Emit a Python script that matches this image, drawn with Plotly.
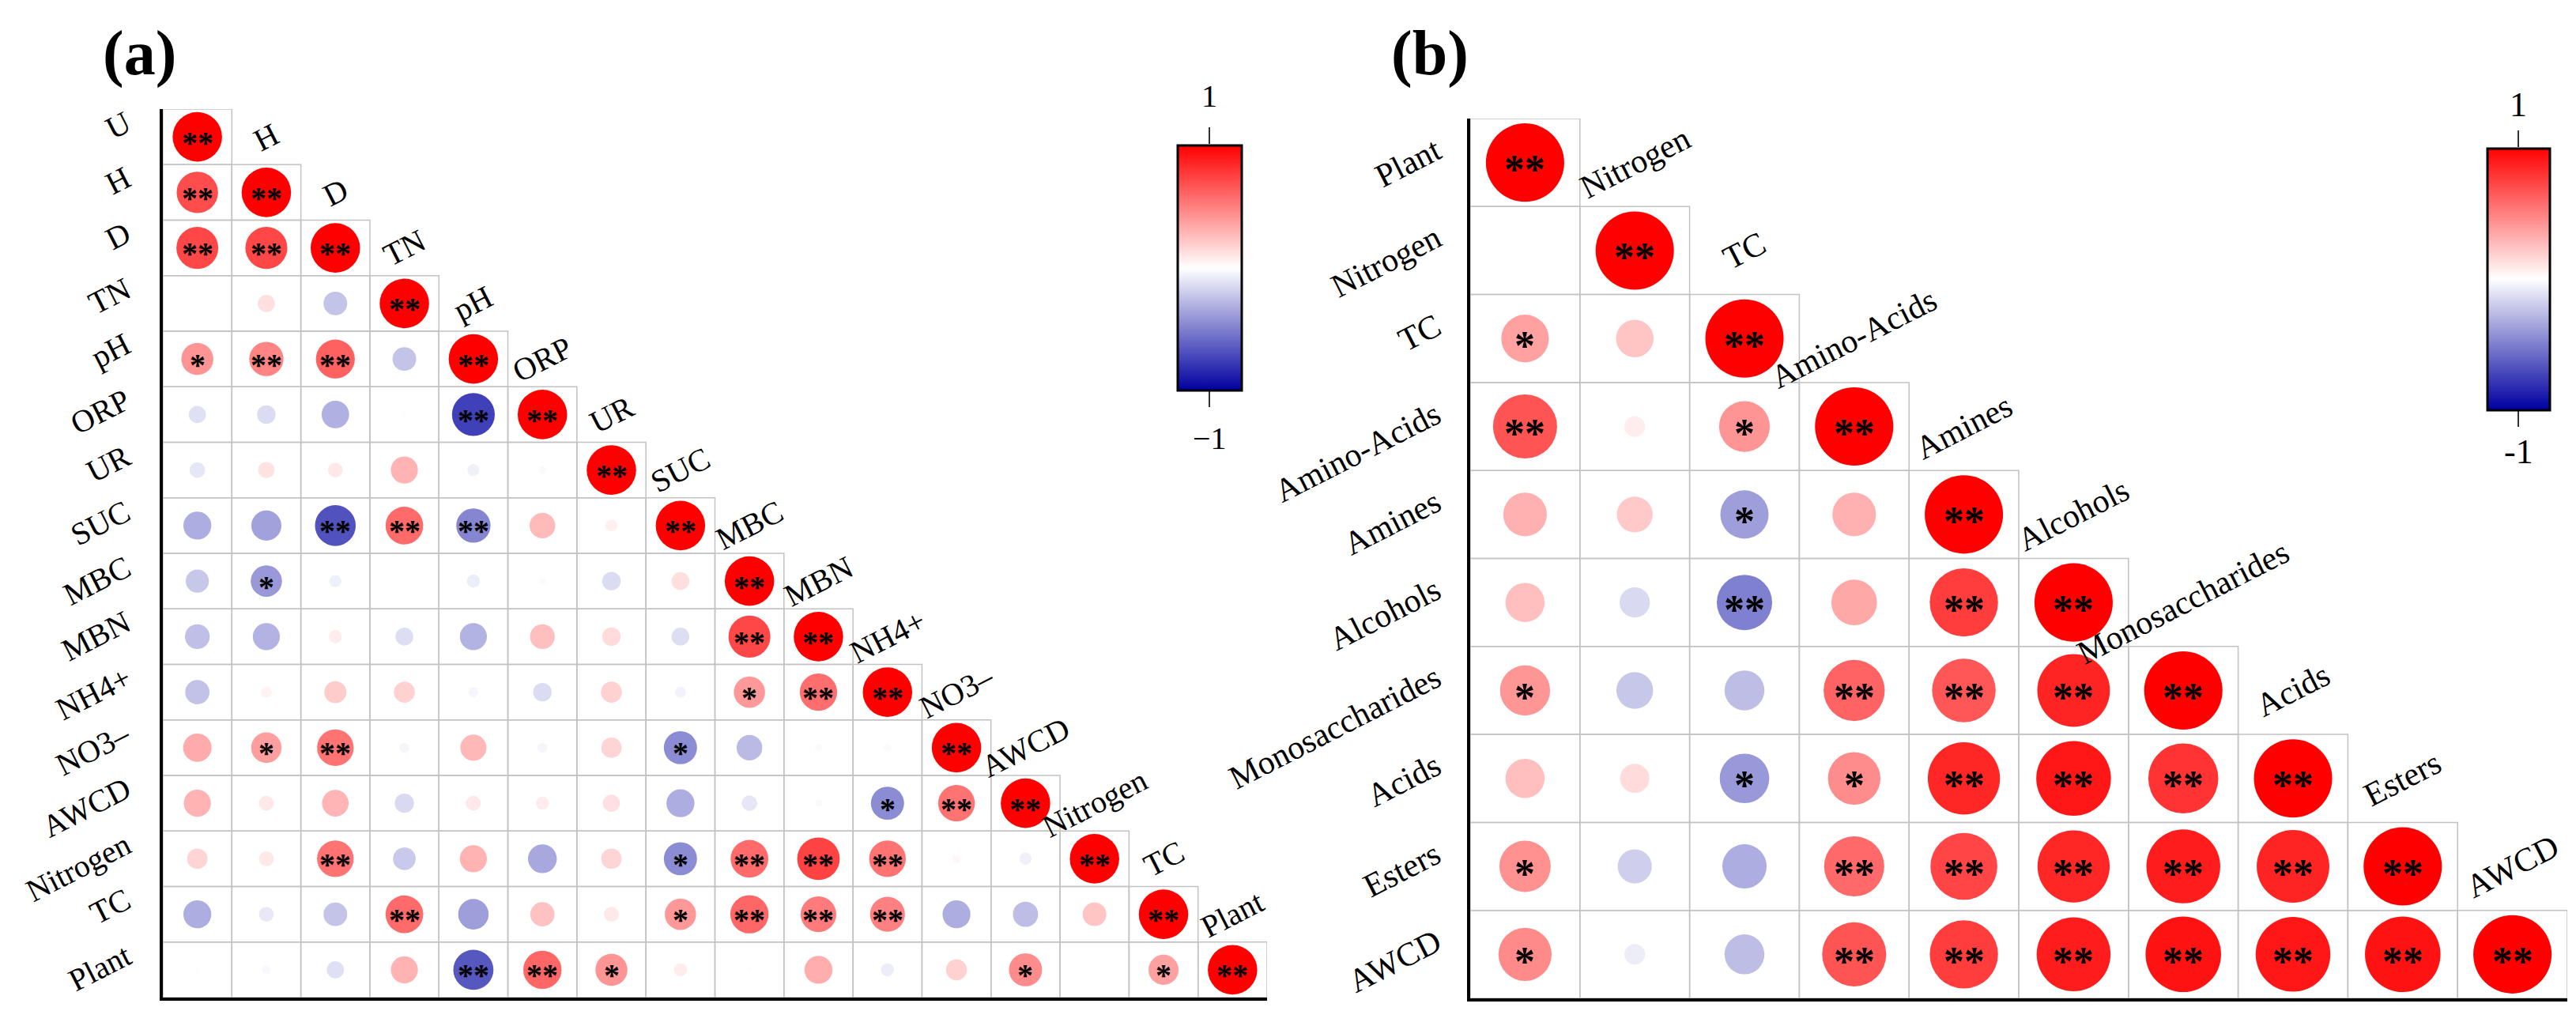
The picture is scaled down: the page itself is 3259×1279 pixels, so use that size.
import plotly.graph_objects as go

W, H = 3259, 1279

# ---------------- data: panel (a) ----------------
vars_a = ["U", "H", "D", "TN", "pH", "ORP", "UR", "SUC", "MBC", "MBN",
          "NH4+", "NO3–", "AWCD", "Nitrogen", "TC", "Plant"]
r_a = [
    [1.00],
    [0.70, 1.00],
    [0.72, 0.72, 1.00],
    [0.00, 0.12, -0.23, 1.00],
    [0.42, 0.48, 0.62, -0.23, 1.00],
    [-0.12, -0.14, -0.31, 0.01, -0.75, 1.00],
    [-0.10, 0.11, 0.09, 0.30, -0.06, -0.02, 1.00],
    [-0.32, -0.37, -0.68, 0.58, -0.48, 0.27, 0.06, 1.00],
    [-0.22, -0.40, -0.06, 0.00, -0.07, 0.02, -0.14, 0.13, 1.00],
    [-0.25, -0.30, 0.07, -0.13, -0.30, 0.25, 0.14, -0.13, 0.72, 1.00],
    [-0.24, 0.05, 0.20, 0.18, -0.04, -0.14, 0.18, -0.05, 0.40, 0.57, 1.00],
    [0.33, 0.38, 0.55, -0.04, 0.28, -0.04, 0.17, -0.45, -0.27, -0.02, -0.02, 1.00],
    [0.30, 0.09, 0.29, -0.15, 0.09, 0.07, 0.12, -0.32, -0.10, -0.02, -0.45, 0.55, 1.00],
    [0.17, 0.09, 0.55, -0.21, 0.30, -0.34, 0.17, -0.45, 0.58, 0.74, 0.55, 0.03, -0.06, 1.00],
    [-0.32, -0.09, -0.23, 0.58, -0.38, 0.24, 0.09, 0.40, 0.60, 0.52, 0.50, -0.32, -0.26, 0.23, 1.00],
    [0.01, -0.03, -0.12, 0.30, -0.66, 0.60, 0.42, 0.07, 0.01, 0.32, -0.07, 0.18, 0.45, 0.00, 0.37, 1.00],
]
sig_a = [
    ["**"],
    ["**", "**"],
    ["**", "**", "**"],
    ["", "", "", "**"],
    ["*", "**", "**", "", "**"],
    ["", "", "", "", "**", "**"],
    ["", "", "", "", "", "", "**"],
    ["", "", "**", "**", "**", "", "", "**"],
    ["", "*", "", "", "", "", "", "", "**"],
    ["", "", "", "", "", "", "", "", "**", "**"],
    ["", "", "", "", "", "", "", "", "*", "**", "**"],
    ["", "*", "**", "", "", "", "", "*", "", "", "", "**"],
    ["", "", "", "", "", "", "", "", "", "", "*", "**", "**"],
    ["", "", "**", "", "", "", "", "*", "**", "**", "**", "", "", "**"],
    ["", "", "", "**", "", "", "", "*", "**", "**", "**", "", "", "", "**"],
    ["", "", "", "", "**", "**", "*", "", "", "", "", "", "*", "", "*", "**"],
]

# ---------------- data: panel (b) ----------------
vars_b = ["Plant", "Nitrogen", "TC", "Amino-Acids", "Amines", "Alcohols",
          "Monosaccharides", "Acids", "Esters", "AWCD"]
r_b = [
    [1.00],
    [0.00, 1.00],
    [0.37, 0.23, 1.00],
    [0.67, 0.07, 0.42, 1.00],
    [0.31, 0.21, -0.38, 0.31, 1.00],
    [0.25, -0.15, -0.50, 0.34, 0.76, 1.00],
    [0.41, -0.22, -0.26, 0.61, 0.66, 0.86, 1.00],
    [0.25, 0.14, -0.40, 0.45, 0.85, 0.91, 0.80, 1.00],
    [0.43, -0.19, -0.32, 0.59, 0.73, 0.85, 0.89, 0.86, 1.00],
    [0.46, -0.07, -0.26, 0.67, 0.76, 0.89, 0.93, 0.91, 0.93, 1.00],
]
sig_b = [
    ["**"],
    ["", "**"],
    ["*", "", "**"],
    ["**", "", "*", "**"],
    ["", "", "*", "", "**"],
    ["", "", "**", "", "**", "**"],
    ["*", "", "", "**", "**", "**", "**"],
    ["", "", "*", "*", "**", "**", "**", "**"],
    ["*", "", "", "**", "**", "**", "**", "**", "**"],
    ["*", "", "", "**", "**", "**", "**", "**", "**", "**"],
]

panel_tags = ["(a)", "(b)"]
cbar_labels_a = ["1", "−1"]
cbar_labels_b = ["1", "-1"]

# ---------------- style ----------------
FONT = "Liberation Serif"
cscale = [[0.0, "#0000A0"], [0.5, "#FFFFFF"], [1.0, "#FF0000"]]
GRID = "#C2C2C2"
ANG = 27

fig = go.Figure()
shapes = []
annotations = []


def px_x(p):
    return p / W


def px_y(p):
    return 1 - p / H


def add_panel(names, rvals, sigs, ax, xdom, ydom, cb, lab_size, star_size,
              lab_dx, lab_dy, star_dy):
    n = len(names)
    xr = "x" if ax == 1 else "x2"
    yr = "y" if ax == 1 else "y2"
    cell_h = (ydom[1] - ydom[0]) * H / n
    xs, ys, vs, szs = [], [], [], []
    for i, row in enumerate(rvals):
        for j, v in enumerate(row):
            xs.append(j)
            ys.append(i)
            vs.append(v)
            szs.append(0.89 * cell_h * abs(v) ** 0.5)
            shapes.append(dict(type="rect", xref=xr, yref=yr,
                               x0=j - 0.5, x1=j + 0.5, y0=i - 0.5, y1=i + 0.5,
                               line=dict(color=GRID, width=1.5), layer="below"))
            s = sigs[i][j]
            if s:
                annotations.append(dict(x=j, y=i, xref=xr, yref=yr,
                                        text="<b>" + s + "</b>",
                                        showarrow=False, yshift=star_dy,
                                        xanchor="center", yanchor="middle",
                                        font=dict(family=FONT, size=star_size, color="black")))
    fig.add_trace(go.Scatter(
        x=xs, y=ys, mode="markers", xaxis=xr, yaxis=yr, hoverinfo="skip",
        showlegend=False,
        marker=dict(size=szs, color=vs, colorscale=cscale, cmin=-1, cmax=1,
                    opacity=1, line=dict(width=0), showscale=True, colorbar=cb)))
    for k, name in enumerate(names):
        # diagonal (top) labels
        annotations.append(dict(x=k, y=k - 1, xref=xr, yref=yr, text=name,
                                showarrow=False, textangle=-ANG,
                                xanchor="center", yanchor="middle",
                                font=dict(family=FONT, size=lab_size, color="black")))
        # left labels
        annotations.append(dict(x=-0.5, y=k, xref=xr, yref=yr, text=name,
                                showarrow=False, textangle=-ANG,
                                xanchor="right", yanchor="top",
                                xshift=-lab_dx, yshift=lab_dy,
                                font=dict(family=FONT, size=lab_size, color="black")))
    axis_common = dict(showgrid=False, zeroline=False, showticklabels=False,
                       ticks="", showline=True, linecolor="black", linewidth=4)
    fig.update_layout(**{
        ("xaxis" if ax == 1 else "xaxis2"): dict(domain=xdom, range=[-0.5, n - 0.5],
                                                anchor=yr, **axis_common),
        ("yaxis" if ax == 1 else "yaxis2"): dict(domain=ydom, range=[n - 0.5, -0.5],
                                                anchor=xr, **axis_common),
    })


def colorbar(x0, x1, y0, y1):
    return dict(x=px_x(x0 + 1.5), xanchor="left", y=px_y((y0 + y1) / 2),
                yanchor="middle", len=(y1 - y0) - 3, lenmode="pixels",
                thickness=(x1 - x0) - 3, thicknessmode="pixels",
                outlinewidth=3, outlinecolor="black", showticklabels=False,
                ticks="", xpad=0, ypad=0)


cb_a = (1480, 1564, 174, 487)
cb_b = (3137, 3219, 178, 512)

add_panel(vars_a, r_a, sig_a, 1, [px_x(198), px_x(1595)], [px_y(1254), px_y(130)],
          colorbar(*cb_a), 40, 40, 31, 44, -7)
add_panel(vars_b, r_b, sig_b, 2, [px_x(1852), px_x(3240)], [px_y(1255), px_y(142)],
          colorbar(*cb_b), 42, 52, 27, 43, -9)

# colorbar end labels and tick marks
for (x0, x1, y0, y1), labs, fs, lab_y in (
        (cb_a, cbar_labels_a, 40, (113, 546)),
        (cb_b, cbar_labels_b, 44, (125, 563))):
    xc = (x0 + x1) / 2
    shapes.append(dict(type="line", xref="paper", yref="paper",
                       x0=px_x(xc), x1=px_x(xc), y0=px_y(y0), y1=px_y(y0 - 21),
                       line=dict(color="#333333", width=2)))
    shapes.append(dict(type="line", xref="paper", yref="paper",
                       x0=px_x(xc), x1=px_x(xc), y0=px_y(y1), y1=px_y(y1 + 20),
                       line=dict(color="#333333", width=2)))
    for lab, ly in zip(labs, lab_y):
        annotations.append(dict(x=px_x(xc), y=px_y(ly), xref="paper", yref="paper",
                                text=lab, showarrow=False,
                                xanchor="center", yanchor="middle",
                                font=dict(family=FONT, size=fs, color="black")))

# panel tags
for tag, xc in zip(panel_tags, (168.5, 1801.5)):
    annotations.append(dict(x=px_x(xc), y=px_y(59), xref="paper", yref="paper",
                            text="<b>" + tag + "</b>", showarrow=False,
                            xanchor="center", yanchor="middle",
                            font=dict(family=FONT, size=80, color="black")))

fig.update_layout(width=W, height=H, margin=dict(l=0, r=0, t=0, b=0),
                  paper_bgcolor="white", plot_bgcolor="white",
                  shapes=shapes, annotations=annotations, showlegend=False)

fig.write_html("out.html")
